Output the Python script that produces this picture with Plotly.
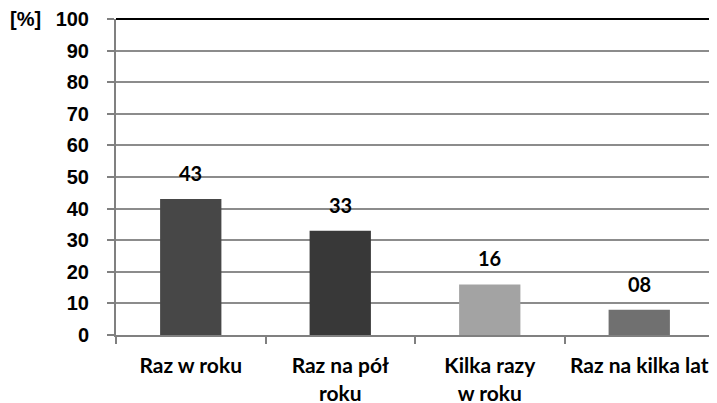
import plotly.graph_objects as go

categories = ["Raz w roku", "Raz na pół<br>roku", "Kilka razy<br>w roku", "Raz na kilka lat"]
values = [43, 33, 16, 8]
value_labels = ["43", "33", "16", "08"]
bar_colors = ["#474747", "#383838", "#a3a3a3", "#707070"]
y_ticks = [0, 10, 20, 30, 40, 50, 60, 70, 80, 90, 100]

fig = go.Figure()
fig.add_trace(go.Bar(
    x=categories, y=values,
    marker=dict(color=bar_colors, line=dict(width=0)),
    width=0.41,
    text=value_labels,
    textposition="none",
    hoverinfo="skip",
))

for c, v, t in zip(categories, values, value_labels):
    fig.add_annotation(x=c, y=v, text=f"<b>{t}</b>", showarrow=False,
                       yanchor="bottom", yshift=12,
                       font=dict(family="Lato, Open Sans, sans-serif", size=20, color="#000"))

fig.add_annotation(xref="paper", yref="paper", x=-0.181, y=1.0, text="<b>[%]</b>",
                   showarrow=False, xanchor="left", yanchor="middle",
                   font=dict(family="Liberation Sans, Arial, sans-serif", size=20, color="#000"))

fig.update_layout(
    width=717, height=403,
    margin=dict(l=108, r=11, t=11, b=76),
    paper_bgcolor="white", plot_bgcolor="white",
    showlegend=False,
)
fig.update_yaxes(
    automargin=False,
    range=[0, 100], tickvals=y_ticks, ticktext=[f"<b>{v}</b>" for v in y_ticks],
    showgrid=True, gridcolor="#8c8c8c", gridwidth=1.5,
    showline=True, linecolor="#808080", linewidth=2,
    ticks="outside", ticklen=7, tickcolor="#808080", tickwidth=2,
    ticklabelstandoff=14,
    tickfont=dict(family="Liberation Sans, Arial, sans-serif", size=20, color="#000"),
    zeroline=False, mirror=False,
)
fig.update_xaxes(
    automargin=False,
    tickson="boundaries", tickangle=0,
    showline=True, linecolor="#808080", linewidth=2,
    ticks="outside", ticklen=7, tickcolor="#808080", tickwidth=2,
    ticklabelstandoff=11,
    tickfont=dict(family="Lato, Open Sans, sans-serif", size=21, color="#000"),
    tickvals=categories, ticktext=[f"<b>{c}</b>" for c in categories],
)
# black top and right border
fig.add_shape(type="line", xref="paper", yref="paper", x0=0, x1=1, y0=1, y1=1,
              line=dict(color="#000", width=2))
fig.add_shape(type="line", xref="paper", yref="paper", x0=1, x1=1, y0=0, y1=1,
              line=dict(color="#000", width=2))

fig.write_html("out.html")
